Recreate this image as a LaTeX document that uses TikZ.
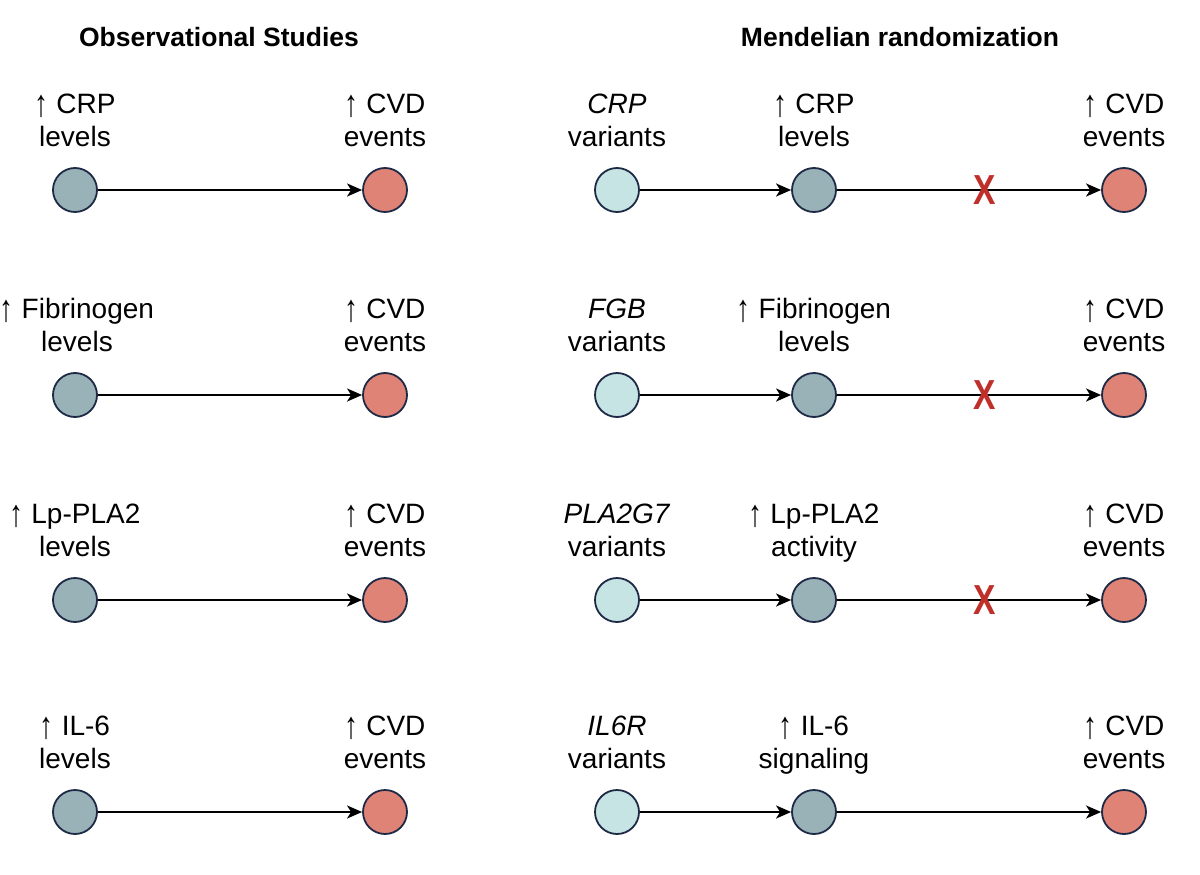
\documentclass[tikz,border=0pt]{standalone}
\usepackage{graphicx}
\usepackage{fontspec}
\setmainfont{Liberation Sans}
\newfontfamily\crossfont[FakeStretch=0.8]{Liberation Sans}
\usetikzlibrary{positioning,arrows.meta}
\definecolor{markerblue}{HTML}{98B2B8}
\definecolor{variantteal}{HTML}{C6E4E3}
\definecolor{outcomered}{HTML}{E08377}
\definecolor{rimnavy}{HTML}{1E2A45}
\definecolor{crossred}{HTML}{C0302B}
\newcommand{\up}{\raisebox{-3pt}{\scalebox{1}[1.35]{↑}}}
\tikzset{
  dot/.style={circle,draw=rimnavy,line width=1.8pt,minimum size=44pt,inner sep=0pt},
  marker/.style={dot,fill=markerblue},
  variant/.style={dot,fill=variantteal},
  outcome/.style={dot,fill=outcomered},
  caption/.style={align=center,text depth=0pt,inner sep=0pt,
    font=\fontsize{28}{33}\selectfont},
  heading/.style={anchor=base,inner sep=0pt,font=\bfseries\fontsize{26.5}{26.5}\selectfont},
  link/.style={-{Stealth[length=15pt,width=13pt,inset=4pt]},line width=2pt},
  nolink/.style={text=crossred,inner sep=0pt,font=\crossfont\bfseries\fontsize{42}{42}\selectfont}
}
\begin{document}
\begin{tikzpicture}[x=1pt,y=-1pt]
      \useasboundingbox (0,0) rectangle (1200,875);
      \node[heading] (obshead) at (219,47) {Observational Studies};
      \node[heading] (mrhead) at (900,47) {Mendelian randomization};
      % observational studies
      \draw
        (75,190) node[marker] (ob1){}
        (385,190) node[outcome] (oc1){}
        (75,395) node[marker] (ob2){}
        (385,395) node[outcome] (oc2){}
        (75,600) node[marker] (ob3){}
        (385,600) node[outcome] (oc3){}
        (75,812) node[marker] (ob4){}
        (385,812) node[outcome] (oc4){};
      % mendelian randomization
      \draw
        (617,190) node[variant] (gv1){}
        (814,190) node[marker] (gm1){}
        (1124,190) node[outcome] (go1){}
        (617,395) node[variant] (gv2){}
        (814,395) node[marker] (gm2){}
        (1124,395) node[outcome] (go2){}
        (617,600) node[variant] (gv3){}
        (814,600) node[marker] (gm3){}
        (1124,600) node[outcome] (go3){}
        (617,812) node[variant] (gv4){}
        (814,812) node[marker] (gm4){}
        (1124,812) node[outcome] (go4){};
      % captions
      \node[caption,above=20pt of ob1] (ob1t) {\up{} CRP\\levels};
      \node[caption,above=20pt of ob2,xshift=2pt] (ob2t) {\up{} Fibrinogen\\levels};
      \node[caption,above=20pt of ob3] (ob3t) {\up{} Lp-PLA2\\levels};
      \node[caption,above=20pt of ob4] (ob4t) {\up{} IL-6\\levels};
      \node[caption,above=20pt of oc1] (oc1t) {\up{} CVD\\events};
      \node[caption,above=20pt of oc2] (oc2t) {\up{} CVD\\events};
      \node[caption,above=20pt of oc3] (oc3t) {\up{} CVD\\events};
      \node[caption,above=20pt of oc4] (oc4t) {\up{} CVD\\events};
      \node[caption,above=20pt of gv1] (gv1t) {\textit{CRP}\\variants};
      \node[caption,above=20pt of gv2] (gv2t) {\textit{FGB}\\variants};
      \node[caption,above=20pt of gv3] (gv3t) {\textit{PLA2G7}\\variants};
      \node[caption,above=20pt of gv4] (gv4t) {\textit{IL6R}\\variants};
      \node[caption,above=20pt of gm1] (gm1t) {\up{} CRP\\levels};
      \node[caption,above=20pt of gm2] (gm2t) {\up{} Fibrinogen\\levels};
      \node[caption,above=20pt of gm3] (gm3t) {\up{} Lp-PLA2\\activity};
      \node[caption,above=20pt of gm4] (gm4t) {\up{} IL-6\\signaling};
      \node[caption,above=20pt of go1] (go1t) {\up{} CVD\\events};
      \node[caption,above=20pt of go2] (go2t) {\up{} CVD\\events};
      \node[caption,above=20pt of go3] (go3t) {\up{} CVD\\events};
      \node[caption,above=20pt of go4] (go4t) {\up{} CVD\\events};
      \begin{scope}[link]
        \draw (ob1) to (oc1);
        \draw (ob2) to (oc2);
        \draw (ob3) to (oc3);
        \draw (ob4) to (oc4);
        \draw (gv1) to (gm1);
        \draw (gv2) to (gm2);
        \draw (gv3) to (gm3);
        \draw (gv4) to (gm4);
        \draw (gm1) to node[nolink,pos=0.56] (x1){X} (go1);
        \draw (gm2) to node[nolink,pos=0.56] (x2){X} (go2);
        \draw (gm3) to node[nolink,pos=0.56] (x3){X} (go3);
        \draw (gm4) to (go4);
      \end{scope}
    \end{tikzpicture}
\end{document}
